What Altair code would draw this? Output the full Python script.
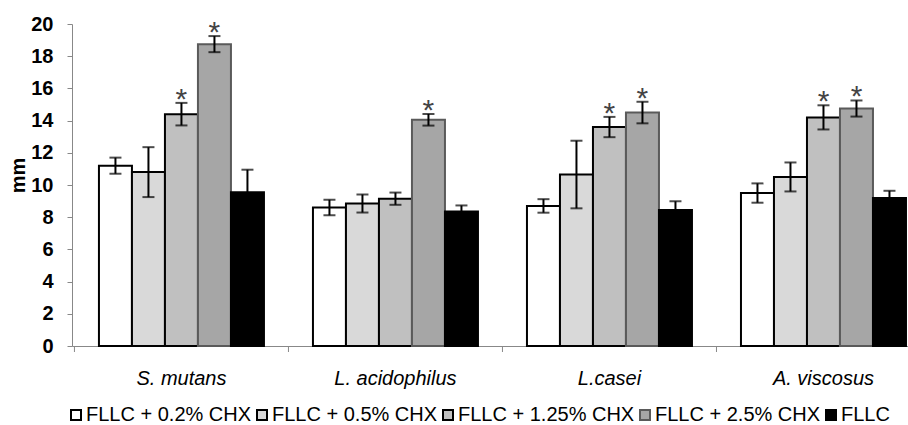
import altair as alt
import pandas as pd

groups = ["S. mutans", "L. acidophilus", "L.casei", "A. viscosus"]
series = ["FLLC + 0.2% CHX", "FLLC + 0.5% CHX", "FLLC + 1.25% CHX", "FLLC + 2.5% CHX", "FLLC"]

mean_02 = [11.2, 8.6, 8.7, 9.5]
mean_05 = [10.8, 8.85, 10.65, 10.5]
mean_125 = [14.4, 9.15, 13.6, 14.2]
mean_25 = [18.75, 14.05, 14.5, 14.75]
mean_fllc = [9.55, 8.35, 8.45, 9.2]

err_02 = [0.5, 0.48, 0.42, 0.6]
err_05 = [1.55, 0.56, 2.1, 0.9]
err_125 = [0.7, 0.38, 0.63, 0.75]
err_25 = [0.5, 0.36, 0.67, 0.5]
err_fllc = [1.4, 0.38, 0.54, 0.44]

sig_02 = [0, 0, 0, 0]
sig_05 = [0, 0, 0, 0]
sig_125 = [1, 0, 1, 1]
sig_25 = [1, 1, 1, 1]
sig_fllc = [0, 0, 0, 0]

fills = ["#ffffff", "#d9d9d9", "#c0c0c0", "#a6a6a6", "#000000"]
strokes = ["#000000", "#000000", "#000000", "#5a5a5a", "#000000"]
stroke_widths = [2, 2, 2, 1, 1]
y_ticks = list(range(0, 21, 2))

means = [mean_02, mean_05, mean_125, mean_25, mean_fllc]
errs = [err_02, err_05, err_125, err_25, err_fllc]
sigs = [sig_02, sig_05, sig_125, sig_25, sig_fllc]

rows = []
for si, s in enumerate(series):
    for gi, g in enumerate(groups):
        m = means[si][gi]
        e = errs[si][gi]
        rows.append({"group": g, "series": s, "mean": m, "lo": m - e, "hi": m + e, "sig": sigs[si][gi]})
df = pd.DataFrame(rows)

FONT = "Liberation Sans"

xscale = alt.Scale(paddingInner=0.229, paddingOuter=0.0677, align=0.93)
xaxis = alt.Axis(title=None, ticks=False, labelAngle=0, labelFontSize=20,
                 labelFontStyle="italic", labelFont=FONT, labelColor="#000000",
                 labelPadding=22, labelOverlap=False, domainColor="#888888", domainWidth=1)

yscale = alt.Scale(domain=[0, 20])
yaxis = alt.Axis(values=y_ticks, tickCount=11, grid=False, tickSize=5, tickColor="#888888",
                 domainColor="#888888", labelFontSize=20, labelFontWeight="bold",
                 labelFont=FONT, labelColor="#000000", labelPadding=14,
                 labelOverlap=False,
                 title="mm", titleFontSize=20, titleFontWeight="bold", titleFont=FONT,
                 titleColor="#000000", titlePadding=2, titleY=151)

base = alt.Chart(df).encode(
    x=alt.X("group:N", sort=groups, scale=xscale, axis=xaxis),
    xOffset=alt.XOffset("series:N", sort=series, scale=alt.Scale(paddingInner=0, paddingOuter=0)),
)

bars = base.mark_bar().encode(
    y=alt.Y("mean:Q", scale=yscale, axis=yaxis),
    fill=alt.Fill("series:N", sort=series, scale=alt.Scale(domain=series, range=fills),
                  legend=alt.Legend(orient="none", legendX=-6, legendY=381, direction="horizontal",
                                    title=None, symbolType="square", symbolSize=100,
                                    symbolStrokeColor="#000000", symbolStrokeWidth=1.5,
                                    labelFontSize=20, labelFont=FONT, labelColor="#000000",
                                    labelOffset=0, columnPadding=0, padding=0, labelLimit=400)),
    stroke=alt.Stroke("series:N", sort=series, scale=alt.Scale(domain=series, range=strokes), legend=None),
    strokeWidth=alt.StrokeWidth("series:N", sort=series, scale=alt.Scale(domain=series, range=stroke_widths), legend=None),
)

err = base.mark_rule(color="#000000", strokeWidth=2).encode(
    y=alt.Y("lo:Q", scale=yscale, axis=yaxis), y2="hi:Q")
cap_hi = base.mark_tick(color="#000000", thickness=2, size=12, orient="horizontal").encode(
    y=alt.Y("hi:Q", scale=yscale, axis=yaxis))
cap_lo = base.mark_tick(color="#000000", thickness=2, size=12, orient="horizontal").encode(
    y=alt.Y("lo:Q", scale=yscale, axis=yaxis))
stars = base.transform_filter("datum.sig == 1").mark_text(
    text="*", fontSize=30, font=FONT, color="#444444", baseline="alphabetic", dy=6).encode(
    y=alt.Y("hi:Q", scale=yscale, axis=yaxis))

ticks = alt.Chart(pd.DataFrame({"group": groups})).mark_rule(xOffset=-24.5, color="#888888").encode(
    x=alt.X("group:N", sort=groups, bandPosition=0, scale=xscale, axis=xaxis),
    y=alt.value(322), y2=alt.value(328))

chart = alt.layer(bars, err, cap_hi, cap_lo, stars, ticks).properties(
    width=836, height=322, autosize="none",
    padding={"left": 72, "top": 24, "right": 0, "bottom": 79},
).configure_view(stroke=None)

chart.save("out.html", embed_options={"renderer": "svg", "actions": False})
